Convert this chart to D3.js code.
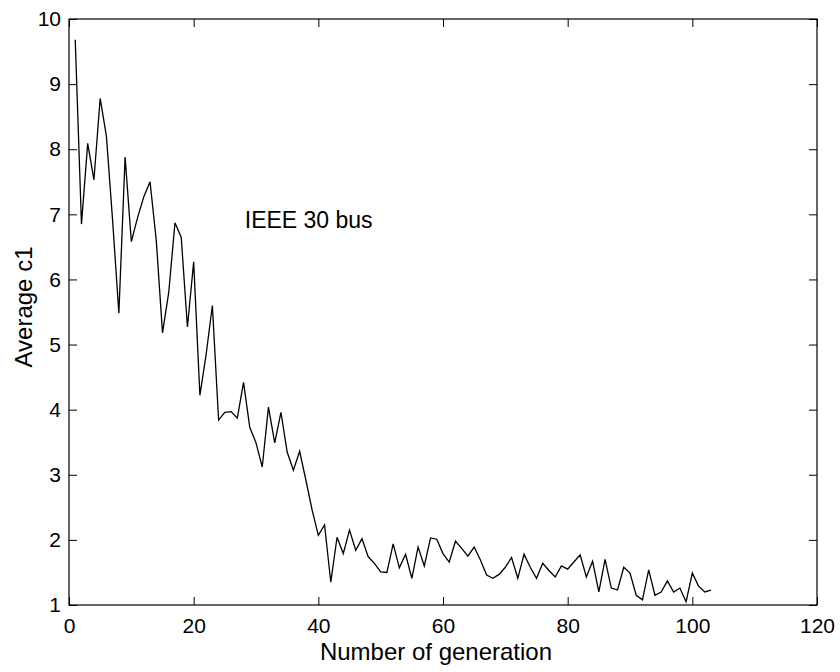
<!DOCTYPE html>
<html>
<head>
<meta charset="utf-8">
<script src="https://cdn.jsdelivr.net/npm/d3@7"></script>
<style>
  html, body { margin: 0; padding: 0; background: #fff; }
  svg { display: block; }
  text { font-family: "Liberation Sans", Arial, Helvetica, sans-serif; fill: #000; }
</style>
</head>
<body>
<svg id="chart" width="840" height="672"></svg>
<script>
// ---- data ----
const avgC1 = [
  9.68, 6.85, 8.09, 7.53, 8.78, 8.2, 6.9, 5.48, 7.88, 6.58,
  6.95, 7.27, 7.5, 6.6, 5.18, 5.8, 6.87, 6.65, 5.27, 6.27,
  4.22, 4.85, 5.6, 3.84, 3.96, 3.97, 3.87, 4.42, 3.73, 3.49,
  3.12, 4.04, 3.49, 3.96, 3.35, 3.07, 3.36, 2.92, 2.46, 2.07,
  2.23, 1.35, 2.04, 1.79, 2.15, 1.84, 2.02, 1.74, 1.64, 1.51,
  1.5, 1.94, 1.57, 1.78, 1.41, 1.89, 1.6, 2.03, 2.01, 1.79,
  1.66, 1.98, 1.87, 1.75, 1.89, 1.69, 1.46, 1.41, 1.47, 1.58,
  1.73, 1.41, 1.78, 1.58, 1.41, 1.64, 1.53, 1.43, 1.6, 1.55,
  1.66, 1.77, 1.43, 1.67, 1.2, 1.7, 1.26, 1.23, 1.58, 1.49,
  1.15, 1.08, 1.54, 1.15, 1.2, 1.37, 1.2, 1.26, 1.05, 1.49,
  1.29, 1.2, 1.23
];
const generations = avgC1.map((v, i) => i + 1);
const xTicks = [0, 20, 40, 60, 80, 100, 120];
const yTicks = [1, 2, 3, 4, 5, 6, 7, 8, 9, 10];
const xLabel = "Number of generation";
const yLabel = "Average c1";
const annotation = { text: "IEEE 30 bus", x: 28.2, y: 6.92 };

// ---- layout ----
const W = 840, H = 672;
const M = { left: 69, right: 23, top: 19, bottom: 67 };
const iw = W - M.left - M.right, ih = H - M.top - M.bottom;
const tickFont = 21, titleFont = 24, annFont = 23;
const tickLen = 8;

const svg = d3.select("#chart");
svg.append("rect").attr("width", W).attr("height", H).attr("fill", "#fff");
const g = svg.append("g").attr("transform", `translate(${M.left},${M.top})`);

const x = d3.scaleLinear().domain([0, 120]).range([0, iw]);
const y = d3.scaleLinear().domain([1, 10]).range([ih, 0]);

// axes (ticks inside, mirrored)
function styleAxis(sel) {
  sel.select(".domain").remove();
  sel.selectAll(".tick line").attr("stroke", "#000").attr("stroke-width", 1);
  sel.selectAll(".tick text").attr("font-size", tickFont);
}
const xb = g.append("g").attr("transform", `translate(0,${ih})`)
  .call(d3.axisBottom(x).tickValues(xTicks).tickSizeInner(-tickLen).tickSizeOuter(0).tickPadding(13));
styleAxis(xb);
const xt = g.append("g")
  .call(d3.axisTop(x).tickValues(xTicks).tickSizeInner(-tickLen).tickSizeOuter(0).tickFormat(""));
styleAxis(xt);
const yl = g.append("g")
  .call(d3.axisLeft(y).tickValues(yTicks).tickSizeInner(-tickLen).tickSizeOuter(0).tickPadding(8));
styleAxis(yl);
const yr = g.append("g").attr("transform", `translate(${iw},0)`)
  .call(d3.axisRight(y).tickValues(yTicks).tickSizeInner(-tickLen).tickSizeOuter(0).tickFormat(""));
styleAxis(yr);

// box
g.append("rect").attr("x", 0).attr("y", 0).attr("width", iw).attr("height", ih)
  .attr("fill", "none").attr("stroke", "#000").attr("stroke-width", 1.2);

// line
const line = d3.line().x((d, i) => x(generations[i])).y(d => y(d));
g.append("path").datum(avgC1).attr("d", line)
  .attr("fill", "none").attr("stroke", "#000").attr("stroke-width", 1.3)
  .attr("stroke-linejoin", "miter");

// annotation
g.append("text").attr("x", x(annotation.x)).attr("y", y(annotation.y))
  .attr("dy", "0.35em").attr("font-size", annFont).text(annotation.text);

// axis titles
svg.append("text").attr("x", 436).attr("y", 660)
  .attr("text-anchor", "middle").attr("font-size", titleFont).text(xLabel);
svg.append("text").attr("transform", `translate(32,307) rotate(-90)`)
  .attr("text-anchor", "middle").attr("font-size", titleFont).text(yLabel);
</script>
</body>
</html>
